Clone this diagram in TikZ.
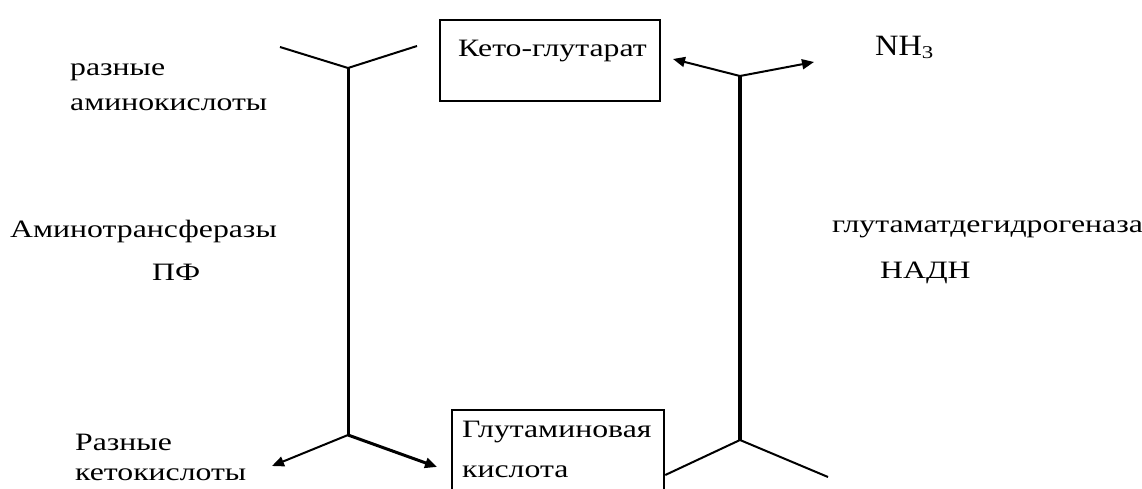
\documentclass[tikz,border=0pt]{standalone}
\usepackage{fontspec}
\setmainfont[FakeStretch=1.27]{Liberation Serif}
\usetikzlibrary{arrows.meta}
\begin{document}
\begin{tikzpicture}[x=1pt,y=-1pt,
  lbl/.style={font=\fontsize{25}{27}\selectfont, inner sep=0pt, anchor=base west},
  box/.style={draw, line width=2.5pt, inner sep=0pt},
  arm/.style={line width=2pt},
  thickarm/.style={line width=3pt},
  tip/.style={-{Triangle[length=12pt,width=10pt]}}]
\fill[white] (0,0) rectangle (1142,489);
\useasboundingbox (0,0) rectangle (1142,489);
\begin{scope}
\clip (0,0) rectangle (1142,489);
% boxes
\node[box, minimum width=220pt, minimum height=81pt] (k) at (550,60.5) {};
\node[box, minimum width=212pt, minimum height=110pt] (g) at (558,465) {};
\end{scope}
\node[lbl] (kt) at (458,57) {Кето-глутарат};
\node[lbl] (gt1) at (462,437) {Глутаминовая};
\node[lbl] (gt2) at (462,477) {кислота};
% labels
\node[lbl] (r1) at (70,76) {разные};
\node[lbl] (r2) at (70,111) {аминокислоты};
\node[lbl] (at) at (10,237) {Аминотрансферазы};
\node[lbl] (pf) at (152,280) {ПФ};
\node[lbl] (nh) at (875,56) {\scalebox{1.02}[1.18]{NH}\raisebox{-3pt}{\fontsize{18}{18}\selectfont 3}};
\node[lbl] (gd) at (832,232) {глутаматдегидрогеназа};
\node[lbl] (nadh) at (880,278) {НАДН};
\node[lbl] (k1) at (75,450) {Разные};
\node[lbl] (k2) at (75,480) {кетокислоты};
% left Y
\coordinate (j1) at (348,68);
\coordinate (j2) at (348,435);
\coordinate (a1) at (280,47);
\coordinate (a2) at (417,46);
\coordinate (b1) at (272,466);
\coordinate (b2) at (437,467);
\draw[arm] (a1) -- (j1) -- (a2);
\draw[thickarm] (j1) -- (j2);
\draw[arm,tip] (j2) -- (b1);
\draw[thickarm,tip] (j2) -- (b2);
% right Y
\coordinate (j3) at (740,76);
\coordinate (j4) at (740,440);
\coordinate (c1) at (673,59);
\coordinate (c2) at (814,62);
\coordinate (d2) at (828,477);
\draw[arm,tip] (j3) -- (c1);
\draw[arm,tip] (j3) -- (c2);
\draw[line width=4pt] (j3) -- (j4);
\draw[arm] (g.east |- 0,475) -- (j4) -- (d2);
\end{tikzpicture}
\end{document}
